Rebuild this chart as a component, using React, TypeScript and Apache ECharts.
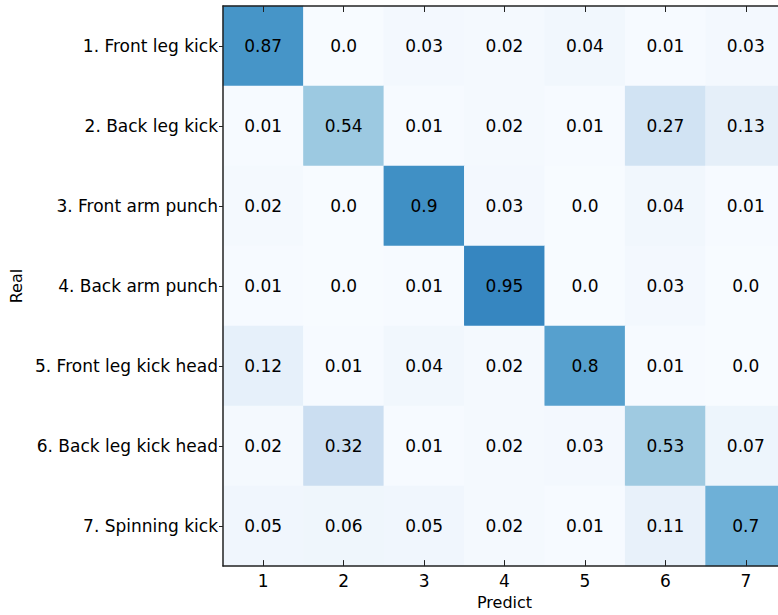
import React, { useEffect, useRef } from "react";
import * as echarts from "echarts";

const predictLabels = ["1", "2", "3", "4", "5", "6", "7"];
const realLabels = [
  "1. Front leg kick",
  "2. Back leg kick",
  "3. Front arm punch",
  "4. Back arm punch",
  "5. Front leg kick head",
  "6. Back leg kick head",
  "7. Spinning kick",
];
const row1 = [0.87, 0.0, 0.03, 0.02, 0.04, 0.01, 0.03];
const row2 = [0.01, 0.54, 0.01, 0.02, 0.01, 0.27, 0.13];
const row3 = [0.02, 0.0, 0.9, 0.03, 0.0, 0.04, 0.01];
const row4 = [0.01, 0.0, 0.01, 0.95, 0.0, 0.03, 0.0];
const row5 = [0.12, 0.01, 0.04, 0.02, 0.8, 0.01, 0.0];
const row6 = [0.02, 0.32, 0.01, 0.02, 0.03, 0.53, 0.07];
const row7 = [0.05, 0.06, 0.05, 0.02, 0.01, 0.11, 0.7];
const matrix = [row1, row2, row3, row4, row5, row6, row7];

const blues = [
  "#f7fbff",
  "#deebf7",
  "#c6dbef",
  "#9ecae1",
  "#6baed6",
  "#4292c6",
  "#2171b5",
  "#08519c",
  "#08306b",
];

const FONT = "DejaVu Sans";
const FS = 17;

function fmt(v: number): string {
  return Number.isInteger(v) ? v.toFixed(1) : String(v);
}

export default function App() {
  const ref = useRef<HTMLDivElement>(null);
  useEffect(() => {
    if (!ref.current) return;
    const chart = echarts.init(ref.current, undefined, { renderer: "svg" });
    const data: [number, number, number][] = [];
    matrix.forEach((row, r) => row.forEach((v, c) => data.push([c, r, v])));
    const axisLine = { show: true, lineStyle: { color: "#222", width: 1.5 } };
    chart.setOption({
      animation: false,
      textStyle: { fontFamily: FONT },
      grid: { left: 223, top: 6, width: 563, height: 564 },
      visualMap: {
        show: false,
        type: "continuous",
        min: 0,
        max: 1.42,
        inRange: { color: blues },
      },
      xAxis: [
        {
          type: "category",
          data: predictLabels,
          position: "bottom",
          z: 10,
          axisLine,
          axisTick: { show: true, inside: true, length: 6, alignWithLabel: true, lineStyle: { color: "#222" } },
          axisLabel: { fontSize: FS, color: "#000", margin: 6, fontFamily: FONT },
          name: "Predict",
          nameLocation: "middle",
          nameGap: 23,
          nameTextStyle: { fontSize: 16, color: "#000", fontFamily: FONT },
          splitLine: { show: false },
        },
        {
          type: "category",
          data: predictLabels,
          position: "top",
          z: 10,
          axisLine,
          axisTick: { show: true, inside: true, length: 6, alignWithLabel: true, lineStyle: { color: "#222" } },
          axisLabel: { show: false },
          splitLine: { show: false },
        },
      ],
      yAxis: [
        {
          type: "category",
          data: realLabels,
          inverse: true,
          position: "left",
          z: 10,
          axisLine,
          axisTick: { show: true, inside: false, length: 4, alignWithLabel: true, lineStyle: { color: "#222" } },
          axisLabel: { fontSize: FS, color: "#000", margin: 5, fontFamily: FONT },
          name: "Real",
          nameLocation: "middle",
          nameGap: 195,
          nameRotate: 90,
          nameTextStyle: { fontSize: 16, color: "#000", fontFamily: FONT },
          splitLine: { show: false },
        },
        {
          type: "category",
          data: realLabels,
          inverse: true,
          position: "right",
          z: 10,
          axisLine,
          axisTick: { show: false },
          axisLabel: { show: false },
          splitLine: { show: false },
        },
      ],
      series: [
        {
          type: "heatmap",
          xAxisIndex: 0,
          yAxisIndex: 0,
          data,
          label: {
            show: true,
            color: "#000",
            fontSize: FS,
            fontFamily: FONT,
            formatter: (p: any) => fmt(p.value[2]),
          },
          itemStyle: { borderWidth: 0 },
          emphasis: { disabled: true },
        },
      ],
    });
    return () => chart.dispose();
  }, []);
  return (
    <div style={{ position: "absolute", left: 0, top: 0, width: 778, height: 615, overflow: "hidden", background: "#fff" }}>
      <div ref={ref} style={{ width: 800, height: 615 }} />
    </div>
  );
}
